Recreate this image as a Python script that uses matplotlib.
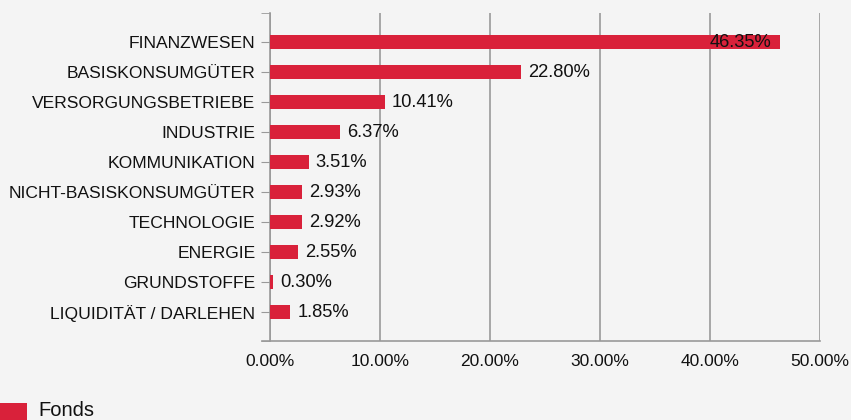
import matplotlib
matplotlib.use("Agg")
import matplotlib.pyplot as plt
from matplotlib.patches import Rectangle

# Data
categories = ["FINANZWESEN", "BASISKONSUMGÜTER", "VERSORGUNGSBETRIEBE", "INDUSTRIE",
              "KOMMUNIKATION", "NICHT-BASISKONSUMGÜTER", "TECHNOLOGIE", "ENERGIE",
              "GRUNDSTOFFE", "LIQUIDITÄT / DARLEHEN"]
values = [46.35, 22.80, 10.41, 6.37, 3.51, 2.93, 2.92, 2.55, 0.30, 1.85]
series_name = "Fonds"
xticks = [0, 10, 20, 30, 40, 50]

BG_COLOR = "#f4f4f4"
BAR_COLOR = "#d9213a"
GRID_COLOR = "#999999"
TEXT_COLOR = "#111111"

plt.rcParams.update({
    "font.family": ["Liberation Sans", "DejaVu Sans"],
    "font.size": 12.6,
})

fig = plt.figure(figsize=(8.51, 4.20), dpi=100, facecolor=BG_COLOR)
ax = fig.add_axes([270 / 851, 1 - 341 / 420, 550 / 851, 328 / 420])
ax.set_facecolor(BG_COLOR)

ypos = list(range(len(categories)))
bars = ax.barh(ypos, values, height=0.48, color=BAR_COLOR, edgecolor="none", zorder=3)

ax.set_xlim(0, 50)
ax.set_ylim(len(categories) - 1 + 0.97, -0.97)

# value labels: outside the bar, except when the bar is long enough
for bar, val in zip(bars, values):
    y = bar.get_y() + bar.get_height() / 2
    label = f"{val:.2f}%"
    if val > 45:
        ax.annotate(label, (val, y), xytext=(-6, -0.5), textcoords="offset points",
                    ha="right", va="center", color=TEXT_COLOR, fontsize=13.2, zorder=4)
    else:
        ax.annotate(label, (val, y), xytext=(5, -0.5), textcoords="offset points",
                    ha="left", va="center", color=TEXT_COLOR, fontsize=13.2, zorder=4)

ax.set_yticks(ypos)
ax.set_yticklabels(categories, color=TEXT_COLOR)
ax.set_yticks([len(categories) - 1 + 0.97, -0.97], minor=True)
ax.tick_params(axis="y", which="both", length=6.5, color=GRID_COLOR, pad=4)

ax.set_xticks(xticks)
ax.set_xticklabels([f"{t:.2f}%" for t in xticks], color=TEXT_COLOR)
ax.tick_params(axis="x", length=0, pad=9, labelsize=12.5)

ax.grid(axis="x", color=GRID_COLOR, linewidth=1.2, zorder=0)
ax.set_axisbelow(True)

for side in ["top", "right"]:
    ax.spines[side].set_visible(False)
for side in ["left", "bottom"]:
    ax.spines[side].set_color(GRID_COLOR)
    ax.spines[side].set_linewidth(1.2)
ax.spines["bottom"].set_bounds(-0.7, 50)

# legend at bottom-left
fig.patches.append(Rectangle((0, 0), 27 / 851, 17 / 420, transform=fig.transFigure,
                             facecolor=BAR_COLOR, edgecolor="none"))
fig.text(38 / 851, 10 / 420, series_name, ha="left", va="center", fontsize=14.5, color=TEXT_COLOR)

fig.savefig("out.png", dpi=100, facecolor=BG_COLOR)
